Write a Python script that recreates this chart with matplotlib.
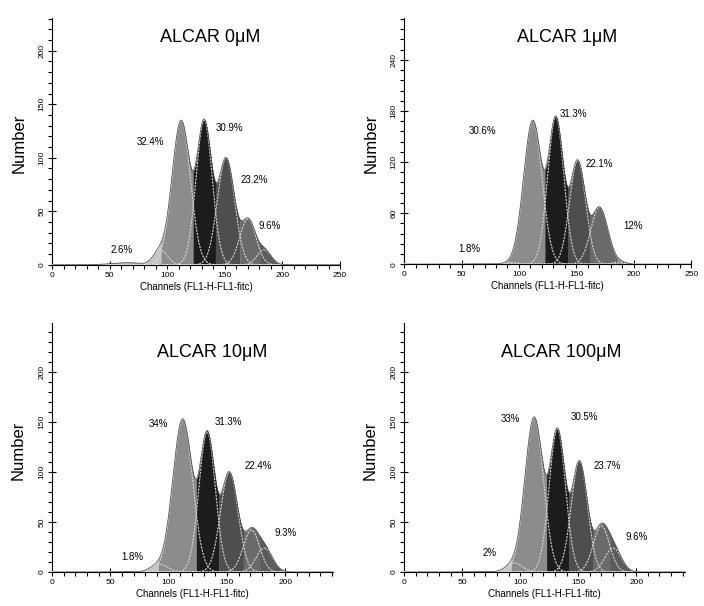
import numpy as np
import matplotlib.pyplot as plt
from matplotlib.ticker import MultipleLocator

plt.rcParams['font.family'] = ['Liberation Sans', 'DejaVu Sans']

titles = ['ALCAR 0\u03bcM', 'ALCAR 1\u03bcM', 'ALCAR 10\u03bcM', 'ALCAR 100\u03bcM']

# fitted components:
# debris tail, sub-G1, peak 1, peak 2, peak 3, peak 4, aggregates
centres_0 = [65, 94, 112, 132, 151, 170, 184]
heights_0 = [2, 14, 135, 135, 100, 43, 14]
widths_0 = [14, 6, 8, 7, 7.5, 7, 6]

centres_1 = [65, 93, 112, 132, 151, 170, 188]
heights_1 = [0.5, 2, 169, 173, 122, 67, 3]
widths_1 = [14, 6, 8, 7, 7, 7.5, 5]

centres_10 = [70, 92, 112, 133, 152, 171, 182]
heights_10 = [0.5, 8, 153, 140, 100, 42, 24]
widths_10 = [14, 7, 8.5, 7, 7.5, 7, 7]

centres_100 = [70, 95, 112, 132, 151, 170, 180]
heights_100 = [0.5, 9, 155, 143, 111, 46, 24]
widths_100 = [14, 7, 8, 7, 7, 7, 7]

pct_0 = ['2.6%', '32.4%', '30.9%', '23.2%', '9.6%']
pct_1 = ['1.8%', '30.6%', '31.3%', '22.1%', '12%']
pct_10 = ['1.8%', '34%', '31.3%', '22.4%', '9.3%']
pct_100 = ['2%', '33%', '30.5%', '23.7%', '9.6%']

panels = [
    (centres_0, heights_0, widths_0, pct_0),
    (centres_1, heights_1, widths_1, pct_1),
    (centres_10, heights_10, widths_10, pct_10),
    (centres_100, heights_100, widths_100, pct_100),
]

# layout: axes rect, limits, tick spacing, label spots (data coords)
rects = [
    [0.074, 0.563, 0.409, 0.408],
    [0.574, 0.564, 0.408, 0.406],
    [0.074, 0.056, 0.399, 0.411],
    [0.574, 0.056, 0.399, 0.411],
]
xmax = [250, 250, 241, 242]
ymax = [231, 289, 249, 249]
ymajor = [50, 60, 50, 50]
yminor = [10, 12, 10, 10]
xmajor_max = [250, 250, 200, 200]
title_pos = [(137, 212), (142, 266), (137, 220), (135, 220)]
label_pos = [
    [(60, 14), (85, 115), (154, 128), (176, 79), (189, 36)],
    [(57, 18), (68, 156), (147, 177), (170, 118), (199, 45)],
    [(69, 15), (91, 148), (151, 150), (177, 106), (200, 39)],
    [(74, 19), (92, 153), (155, 155), (175, 106), (200, 35)],
]
ylab_x = [-0.09, -0.09, -0.093, -0.093]

fills = ['#b8b8b8', '#c4c4c4', '#8c8c8c', '#1c1c1c', '#4e4e4e', '#6a6a6a', '#5c5c5c']

x = np.linspace(0, 250, 1001)

fig = plt.figure(figsize=(7.04, 6.06), dpi=100)

for i, (centres, heights, widths, pcts) in enumerate(panels):
    ax = fig.add_axes(rects[i])
    comps = np.array([h * np.exp(-0.5 * ((x - c) / w) ** 2)
                      for c, h, w in zip(centres, heights, widths)])
    # measured histogram sits between the largest component and their sum
    total = (comps ** 1.5).sum(axis=0) ** (1 / 1.5)
    dom = comps.argmax(axis=0)
    for k in range(len(comps)):
        m = dom == k
        m = m | np.roll(m, 1) | np.roll(m, -1)
        ax.fill_between(x, 0, total, where=m, color=fills[k], lw=0, zorder=2)
    for k in range(1, len(comps)):
        ax.plot(x, comps[k], color='#d4d4d4', lw=0.8, ls=(0, (2, 1)), zorder=3)
    ax.plot(x, total, color='#444444', lw=0.5, zorder=3)

    ax.set_xlim(0, xmax[i])
    ax.set_ylim(0, ymax[i])
    for s in ['top', 'right']:
        ax.spines[s].set_visible(False)
    ax.spines['left'].set_linewidth(0.8)
    ax.spines['bottom'].set_linewidth(0.8)

    ax.set_xticks(np.arange(0, xmajor_max[i] + 1, 50))
    ax.xaxis.set_minor_locator(MultipleLocator(10))
    ax.yaxis.set_major_locator(MultipleLocator(ymajor[i]))
    ax.yaxis.set_minor_locator(MultipleLocator(yminor[i]))
    ax.tick_params(axis='x', which='major', direction='inout', length=6, width=0.8,
                   labelsize=6, pad=2)
    ax.tick_params(axis='x', which='minor', direction='out', length=3, width=0.8)
    ax.tick_params(axis='y', which='major', direction='inout', length=6, width=0.8,
                   labelsize=6, pad=2)
    ax.tick_params(axis='y', which='minor', direction='out', length=3, width=0.8)
    for lab in ax.get_yticklabels():
        lab.set_rotation(90)
        lab.set_va('center')

    ax.set_xlabel('Channels (FL1-H-FL1-fitc)', fontsize=7, labelpad=2)
    ax.set_ylabel('Number', fontsize=12)
    ax.yaxis.set_label_coords(ylab_x[i], 0.49)

    tx, ty = title_pos[i]
    ax.text(tx, ty, titles[i], fontsize=13, ha='center', va='center')
    for (lx, ly), p in zip(label_pos[i], pcts):
        ax.text(lx, ly, p, fontsize=7, ha='center', va='center',
                family=['Liberation Sans Narrow', 'Liberation Sans'])

fig.savefig('out.png', dpi=100)
